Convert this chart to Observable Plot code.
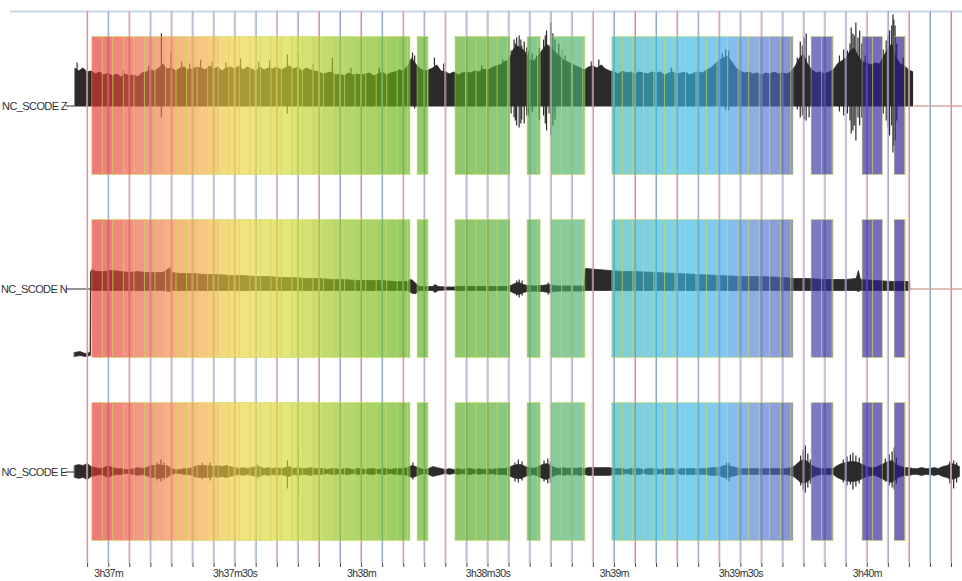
<!DOCTYPE html>
<html><head><meta charset="utf-8">
<script src="https://cdn.jsdelivr.net/npm/d3@7"></script>
<script src="https://cdn.jsdelivr.net/npm/@observablehq/plot@0.6"></script>
<style>
body{margin:0;background:#fff}
#chart svg{display:block}
</style>
</head><body><div id="chart"></div>
<script>
// ---------------- DATA ----------------
const channels = ["NC_SCODE Z", "NC_SCODE N", "NC_SCODE E"];

// time in seconds after 3h37m; traces sampled every 1 s from -8 s
const sampleStart = -8;
const sampleStep = 1;

// Z: upper envelope body (px-like amplitude units)
const zHi = [
  38,35,38,34,35,32,34,31,
  33,30,32,29,32,30,31,29,33,34,
  36,35,38,42,37,38,35,38,39,36,
  37,39,38,36,40,37,39,35,38,39,
  37,40,36,39,37,35,39,36,38,37,
  39,36,38,40,37,39,35,38,36,35,
  34,32,33,34,31,32,30,33,31,32,
  31,32,33,30,32,34,31,33,34,36,
  35,40,48,42,37,35,36,38,41,35,
  34,32,34,31,33,34,33,35,34,37,
  36,38,40,41,44,46,56,60,58,54,
  46,45,50,56,62,58,54,50,46,44,
  42,40,38,36,39,40,38,41,37,35,
  34,32,35,33,34,32,34,33,32,34,
  33,34,31,33,34,32,33,34,31,33,
  34,33,36,38,42,46,48,50,44,38,
  35,33,34,32,33,31,33,32,34,32,
  33,32,34,40,48,52,42,36,33,34,
  32,34,36,42,45,48,55,58,50,44,
  43,41,43,42,50,58,62,48,42,40,
  36,34
];
// Z spikes: time, top, bottom
const zSpikeT  = [-7.5,3.5,9.5,12.5,14.7,17.3,19.2,21.8,24.5,27.8,31.3,35.6,38.2,42.4,45,48.5,53.1,57.5,64.2,71.5,72.1,72.6,77.3,79.5,88.5,93.5,95.5,96.2,96.5,96.8,97.4,97.8,98.0,98.6,99.2,99.6,100.5,101.5,102.2,103.2,103.6,103.9,104.5,104.9,105.4,105.9,106.8,107.5,108.3,114.5,116.3,133.5,145.6,146.4,147.1,163.4,164.1,164.6,165.0,165.5,166.2,173.4,174.4,175.3,175.9,176.2,176.6,176.9,177.3,177.8,178.2,178.7,179.5,183.8,184.5,184.9,185.3,185.8,186.1,186.3,186.6,187.0,188.5];
const zSpikeHi = [43,36,40,72,53,44,42,46,44,43,47,44,45,51,53,42,48,38,38,46,53,50,48,42,40,46,55,66,62,68,70,66,60,64,58,54,52,50,58,66,70,75,60,83,72,66,62,56,50,44,46,38,52,56,55,48,64,60,68,72,50,50,56,55,62,78,72,70,83,68,75,62,50,56,65,70,75,80,91,86,80,62,48];
const zSpikeLo = [0,0,0,-12,0,0,0,0,0,0,0,0,0,-8,0,0,0,0,0,0,0,-3,0,0,0,0,-8,-12,-15,-20,-22,-18,-14,-18,-10,-10,-6,0,-15,-10,-18,-25,-8,-30,-20,-14,0,0,0,0,0,0,0,-4,-5,-4,-12,-10,-14,-15,-12,-6,-10,-8,-15,-28,-25,-20,-35,-12,-20,-12,0,-8,-15,-22,-30,-20,-47,-40,-35,-15,0];

// N: key points (time, top, bottom)
const nT  = [-8,-6.7,-5.5,-4.3,-4.2,-4.1,-3.9,-3,-1,1,3,5,7,9,11,13,14.7,15.2,17,20,23,26,29,32,35,38,41,44,47,50,53,56,59,62,65,68,71,71.8,72.3,73,73.8,74.5,76,77,77.6,78.3,80,82,83,86,89,92,95,96.5,97.5,98.5,99.5,101,103,104.5,105.5,107,110,113,113.2,113.4,116,119,122,125,130,135,140,145,150,155,160,163,166,170,175,177.5,178,178.5,182,186,189,190.2];
const nHi = [-64,-63,-65,-64,17,17,19,17,17,18,17,16,17,16,16,16,21,16,15,15,14,14,13,13,12,12,11,11,10,10,9,9,8,8,8,7,7,9,8,5,2,2,2,2,4,2,1.5,1.5,2,2,2,2,2,5,6,4,3,2.5,3,4,3,2.5,2.5,2.5,20,20,19,18,17,17,16,15,14,13,12,12,11,10,10,9,9,10,18,9,8,7,7,7];
const nLo = [-68,-67,-68,-67,-67,-2,-2,-2,-2,-2,-2,-2,-2,-2,-2,-2,-3,-2,-2,-2,-2,-2,-2,-2,-2,-2,-2,-2,-2,-2,-2,-2,-2,-2,-2,-2,-2,-4,-5,-5,-2,-2,-2,-2,-4,-2,-1.5,-1.5,-2,-2,-2,-2,-2,-5,-6,-4,-3,-2.5,-3,-4,-3,-2.5,-2.5,-2.5,-2,-2,-2,-2,-2,-2,-2,-2,-2,-2,-2,-2,-2,-2,-2,-2,-2,-2,-3,-2,-2,-2,-2,-2];
const nSpikeT  = [96.8,97.4,98.1,104.3,104.8];
const nSpikeHi = [8,9,8,6,5];
const nSpikeLo = [-7,-9,-7,-6,-5];

// E: symmetric envelope amplitude
const eAmp = [
  6,7,6,8,5,4,3,4,
  6,4,3,3,2,2,3,4,3,4,
  6,6,7,6,6,3,2,2,3,3,
  4,6,6,6,6,5,6,5,6,5,
  4,3,4,3,4,5,5,3,4,3,
  4,3,4,5,3,4,3,3,4,3,
  3,3,2,3,3,2,3,3,2,3,
  3,2,3,3,2,3,3,2,3,3,
  3,4,6,5,3,2,3,5,4,3,
  2,3,2,3,2,3,3,2,3,2,
  3,2,3,3,3,4,6,7,7,5,
  4,3,5,7,8,6,4,3,4,3,
  4,3,4,3,4,4,4,4,4,4,
  3,3,3,2,3,3,3,2,3,3,
  3,2,3,3,3,2,3,3,3,3,
  3,3,3,4,4,4,6,6,5,4,
  3,3,3,3,3,3,3,3,3,3,
  3,3,4,6,10,12,10,6,4,3,
  3,3,3,6,8,9,10,10,9,7,
  5,4,4,6,8,10,11,7,5,4,
  4,3,3,4,3,3,4,3,5,6,
  8,7,5
];
const eSpikeT  = [11.5,12.4,13.1,22.2,24.1,35.2,42.4,45,72.2,96.4,97.2,98.1,103.3,104.2,104.8,146.6,147.2,164.2,164.8,165.3,165.9,166.5,174.3,175.2,176,176.6,177.3,178.1,184.3,185.2,185.9,186.4,186.9,199.6,200.5,201.2];
const eSpikeHi = [9,12,9,9,9,8,11,21,9,9,12,10,11,13,10,9,9,16,22,26,18,12,12,15,17,19,16,14,13,17,20,24,14,10,11,9];
const eSpikeLo = [-9,-10,-8,-8,-9,-7,-17,-24,-8,-10,-11,-9,-10,-12,-11,-8,-10,-14,-18,-21,-16,-12,-11,-14,-13,-18,-15,-12,-10,-14,-16,-18,-12,-12,-17,-11];

// traces start / end (s)
const traceStartT = [-8, -4.2, -8];
const traceEndT = [191.2, 190.2, null];

// coloured pick windows (s)
const bandStart = [-3.9, 73.3, 82.3, 99.4, 105.1, 119.5, 166.8, 178.9, 186.5];
const bandEnd   = [71.6, 75.9, 95.3, 102.5, 113.1, 162.5, 172.0, 183.7, 189.1];

// time ticks (s after 3h37m)
const gridSeconds = [-5,0,5,10,15,20,25,30,35,40,45,50,55,60,65,70,75,80,85,90,95,100,105,110,115,120,125,130,135,140,145,150,155,160,165,170,175,180,185,190,195,200];
const tickLabelSeconds = [0,30,60,90,120,150,180];
const tickLabels = ["3h37m","3h37m30s","3h38m","3h38m30s","3h39m","3h39m30s","3h40m"];

// ---------------- LAYOUT / STYLE ----------------
const trackGap = 183, bandHalf = 69, stripeStep = 2.5;
const xDomain = [-23.3, 202.6];
const yDomain = [-457.5, 94.5];
const ink = "#2b2b2b";
const off = i => -i * trackGap;
const labelGapT = -10.1;

const bandColor = d3.scaleLinear()
  .domain([-2, 9.9, 19.4, 31.3, 43.1, 55, 69.2, 86.3, 100.5, 110, 121.5, 135.7, 145.2, 154.7, 161.8, 168.9, 187.9])
  .range(["rgb(232,51,48)","rgb(238,109,72)","rgb(245,158,60)","rgb(240,212,58)","rgb(210,216,48)","rgb(146,195,35)","rgb(97,177,23)","rgb(85,171,35)","rgb(72,171,72)","rgb(72,177,109)","rgb(60,180,185)","rgb(55,185,228)","rgb(60,170,236)","rgb(85,122,208)","rgb(72,85,195)","rgb(48,48,158)","rgb(48,23,146)"])
  .clamp(true);

// build tables
const spikes = (T, H, L, o) => T.map((t, i) => ({t, lo: o + L[i], hi: o + H[i]}));
const zEnv = zHi.map((v, i) => ({t: sampleStart + i * sampleStep, lo: off(0) - 1, hi: off(0) + v}));
const zSp = spikes(zSpikeT, zSpikeHi, zSpikeLo, off(0));
const nEnv = nT.map((t, i) => ({t, lo: off(1) + nLo[i], hi: off(1) + nHi[i]}));
const nSp = spikes(nSpikeT, nSpikeHi, nSpikeLo, off(1));
const eEnv = eAmp.map((v, i) => ({t: sampleStart + i * sampleStep, lo: off(2) - v, hi: off(2) + v}));
const eSp = spikes(eSpikeT, eSpikeHi, eSpikeLo, off(2));

const stripes = [];
bandStart.forEach((s, k) => {
  const e = bandEnd[k];
  for (let t = s; t < e - 0.05; t += stripeStep) {
    const t2 = Math.min(t + stripeStep, e);
    channels.forEach((c, i) => stripes.push({x1: t, x2: t2, mid: (t + t2) / 2, y1: off(i) - bandHalf, y2: off(i) + bandHalf}));
  }
});
const chanRows = channels.map((name, i) => ({name, y: off(i), start: traceStartT[i], end: traceEndT[i]}));
const labelOf = new Map(tickLabelSeconds.map((s, i) => [s, tickLabels[i]]));

const plot = Plot.plot({
  width: 962, height: 581,
  marginLeft: 10, marginRight: 0, marginTop: 11, marginBottom: 18,
  x: {domain: xDomain},
  y: {domain: yDomain, axis: null},
  style: {fontFamily: "Liberation Sans, Arial, sans-serif", background: "#fff", color: "#333"},
  marks: [
    Plot.ruleY([yDomain[1]], {stroke: "#c9d7e8", strokeWidth: 2}),
    // traces
    Plot.areaY(zEnv, {x: "t", y1: "lo", y2: "hi", fill: ink, curve: "linear"}),
    Plot.ruleX(zSp, {x: "t", y1: "lo", y2: "hi", stroke: ink, strokeWidth: 1.2}),
    Plot.areaY(nEnv, {x: "t", y1: "lo", y2: "hi", fill: ink, stroke: ink, strokeWidth: 0.8, curve: "linear"}),
    Plot.ruleX(nSp, {x: "t", y1: "lo", y2: "hi", stroke: ink, strokeWidth: 1.2}),
    Plot.areaY(eEnv, {x: "t", y1: "lo", y2: "hi", fill: ink, stroke: ink, strokeWidth: 0.6, curve: "linear"}),
    Plot.ruleX(eSp, {x: "t", y1: "lo", y2: "hi", stroke: ink, strokeWidth: 1.2}),
    Plot.ruleY(chanRows, {y: "y", x1: labelGapT, x2: "start", stroke: ink, strokeWidth: 1}),
    Plot.ruleY(chanRows.filter(d => d.end != null), {y: "y", x1: "end", x2: xDomain[1], stroke: "#c27a64", strokeWidth: 1}),
    // grid
    Plot.ruleX(gridSeconds, {stroke: "#f0b4b4", strokeWidth: 1, strokeOpacity: 0.8, dx: -1}),
    Plot.ruleX(gridSeconds, {stroke: "#8ea4cc", strokeWidth: 1}),
    // pick windows
    Plot.rect(stripes, {x1: "x1", x2: "x2", y1: "y1", y2: "y2", fill: d => bandColor(d.mid), fillOpacity: 0.65, stroke: "#c8dc5c", strokeOpacity: 0.5, strokeWidth: 1}),
    // labels
    Plot.text(chanRows, {y: "y", text: "name", frameAnchor: "left", textAnchor: "end", dx: 56.5, fontSize: 11, fill: "#333"}),
    Plot.axisX(gridSeconds, {tickFormat: d => labelOf.get(d) ?? "", tickSize: 4, tickPadding: 2, fontSize: 10.5, stroke: "#444", label: null})
  ]
});
document.getElementById("chart").appendChild(plot);
d3.select(plot).selectAll('g[aria-label="x-axis tick label"] text').style("letter-spacing", "-0.6px");
d3.select(plot).selectAll('g[aria-label="text"] text').style("letter-spacing", "-0.6px");
</script>
</body></html>
